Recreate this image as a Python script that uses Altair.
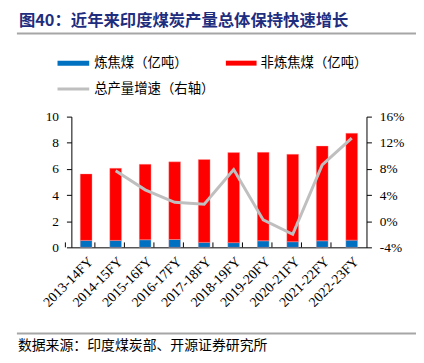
import altair as alt
import pandas as pd

categories = ["2013-14FY", "2014-15FY", "2015-16FY", "2016-17FY", "2017-18FY",
              "2018-19FY", "2019-20FY", "2020-21FY", "2021-22FY", "2022-23FY"]
coking = [0.53, 0.53, 0.58, 0.60, 0.38, 0.36, 0.50, 0.43, 0.50, 0.55]
noncoking = [5.09, 5.53, 5.78, 5.94, 6.34, 6.89, 6.77, 6.69, 7.25, 8.18]
growth = [None, 7.7, 4.8, 2.9, 2.6, 7.9, 0.2, -2.0, 8.6, 12.7]

s_coking = "炼焦煤（亿吨）"
s_non = "非炼焦煤（亿吨）"
s_growth = "总产量增速（右轴）"
title_text = "图40：近年来印度煤炭产量总体保持快速增长"
source_text = "数据来源：印度煤炭部、开源证券研究所"

BLUE = "#0070C0"
RED = "#FF0000"
GRAY = "#BFBFBF"
NAVY = "#1F2D7F"
SERIF = "Liberation Serif"
CJK = "Noto Sans CJK SC"

rows = []
for c, a, b in zip(categories, coking, noncoking):
    rows.append({"cat": c, "series": s_coking, "val": a, "ord": 0})
    rows.append({"cat": c, "series": s_non, "val": b, "ord": 1})
bars_df = pd.DataFrame(rows)
line_df = pd.DataFrame({"cat": categories, "g": growth})

xenc = alt.X("cat:N", sort=categories, title=None,
             scale=alt.Scale(paddingInner=0.6, paddingOuter=0.3),
             axis=alt.Axis(labelAngle=315, labelFont=SERIF, labelFontSize=14,
                           labelColor="black", ticks=False, domainColor="black",
                           labelPadding=7))

bars = alt.Chart(bars_df).mark_bar(stroke="#FFB0B0", strokeWidth=0.6, strokeOpacity=0.6).encode(
    x=xenc,
    y=alt.Y("val:Q", stack="zero", title=None,
            scale=alt.Scale(domain=[0, 10], nice=False),
            axis=alt.Axis(values=[0, 2, 4, 6, 8, 10], grid=False, orient="left",
                          labelFont=SERIF, labelFontSize=13.5, labelColor="black",
                          tickColor="black", domainColor="black", tickSize=5,
                          labelPadding=8)),
    color=alt.Color("series:N", scale=alt.Scale(domain=[s_coking, s_non], range=[BLUE, RED]),
                    legend=None),
    order=alt.Order("ord:Q", sort="ascending"),
)

ticks = alt.Chart(line_df).mark_rule(color="black", strokeWidth=1).encode(
    x=alt.X("cat:N", sort=categories),
    xOffset=alt.value(-15),
    y=alt.value(132), y2=alt.value(127),
)

line = alt.Chart(line_df).mark_line(color=GRAY, strokeWidth=3).encode(
    x=alt.X("cat:N", sort=categories),
    y=alt.Y("g:Q", title=None,
            scale=alt.Scale(domain=[-4, 16], nice=False),
            axis=alt.Axis(values=[-4, 0, 4, 8, 12, 16], grid=False, orient="right",
                          labelExpr="datum.value + '%'",
                          labelFont=SERIF, labelFontSize=13.5, labelColor="black",
                          tickColor="black", domainColor="black", tickSize=5,
                          labelPadding=8)),
)

one = pd.DataFrame({"k": [0]})

def txt(text, x, y, size, color="black", weight="normal", font=CJK):
    return alt.Chart(one).mark_text(text=text, align="left", baseline="middle",
                                    fontSize=size, color=color, fontWeight=weight,
                                    font=font).encode(x=alt.value(x), y=alt.value(y))

def hline(x1, x2, y, color, w):
    return alt.Chart(one).mark_rule(color=color, strokeWidth=w).encode(
        x=alt.value(x1), x2=alt.value(x2), y=alt.value(y))

decor = [
    txt(title_text, -53, -97, 16.5, NAVY, "bold"),
    hline(-55, 352, -84, "#A6A6A6", 2),
    hline(-14, 18, -54, BLUE, 5),
    txt(s_coking, 23, -54, 13.5),
    hline(156, 187, -54, RED, 5),
    txt(s_non, 191, -54, 13.5),
    hline(-14, 18, -28, GRAY, 3),
    txt(s_growth, 23, -28, 13.5),
    hline(-55, 352, 219, "#A6A6A6", 2),
    txt(source_text, -54, 232, 14),
]

main = alt.layer(bars, ticks, line).resolve_scale(y="independent")
chart = alt.layer(main, *decor).properties(
    width=298, height=132,
    autosize=alt.AutoSizeParams(type="none"),
    padding={"left": 64, "top": 108, "right": 50, "bottom": 105},
).configure_view(stroke=None)

chart.save("out.html", embed_options={"renderer": "svg", "actions": False})
